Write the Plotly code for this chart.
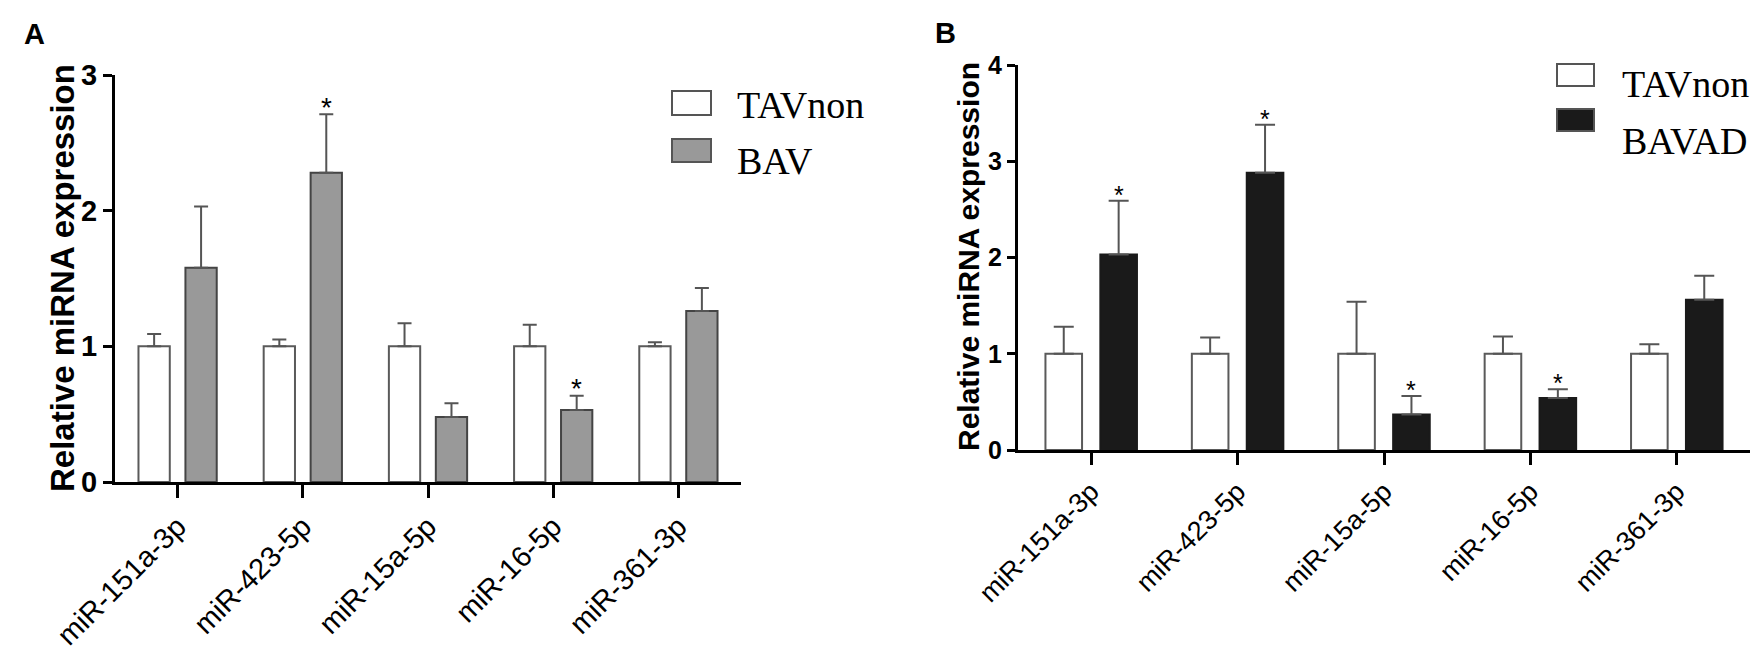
import plotly.graph_objects as go

# values
mirnas = ["miR-151a-3p", "miR-423-5p", "miR-15a-5p", "miR-16-5p", "miR-361-3p"]

a_tav = [1.0, 1.0, 1.0, 1.0, 1.0]
a_tav_err = [0.09, 0.05, 0.17, 0.16, 0.03]
a_bav = [1.58, 2.28, 0.48, 0.53, 1.26]
a_bav_err = [0.45, 0.43, 0.10, 0.105, 0.17]
a_stars = [False, True, False, True, False]

b_tav = [1.0, 1.0, 1.0, 1.0, 1.0]
b_tav_err = [0.28, 0.17, 0.54, 0.18, 0.10]
b_bavad = [2.03, 2.88, 0.37, 0.54, 1.56]
b_bavad_err = [0.56, 0.50, 0.19, 0.09, 0.25]
b_stars = [True, True, True, True, False]

W, H = 1758, 650
SANS = "Arial, Liberation Sans, sans-serif"
SERIF = "Times New Roman, Liberation Serif, serif"
OFF = 0.1875      # half distance between the two bars of a group
BW = 0.25         # bar width in category units

idx = list(range(len(mirnas)))


def px_x(p):
    return p / W


def px_y(p):
    return 1 - p / H


fig = go.Figure()


def add_panel(xa, ya, tav, tav_err, other, other_err, stars, other_fill, other_line,
              err_w, star_size, star_shift):
    fig.add_trace(go.Bar(x=[i - OFF for i in idx], y=tav, width=BW,
                         marker=dict(color="white", line=dict(color="#5a5a5a", width=2)),
                         error_y=dict(type="data", symmetric=False, array=tav_err,
                                      arrayminus=[0] * len(tav), color="#555555",
                                      thickness=2, width=err_w),
                         xaxis=xa, yaxis=ya))
    fig.add_trace(go.Bar(x=[i + OFF for i in idx], y=other, width=BW,
                         marker=dict(color=other_fill, line=dict(color=other_line, width=2)),
                         error_y=dict(type="data", symmetric=False, array=other_err,
                                      arrayminus=[0] * len(other), color="#555555",
                                      thickness=2, width=err_w),
                         xaxis=xa, yaxis=ya))
    for i, s in enumerate(stars):
        if s:
            fig.add_annotation(x=i + OFF, y=other[i] + other_err[i], xref=xa, yref=ya,
                               text="*", showarrow=False, yanchor="middle",
                               yshift=star_shift,
                               font=dict(family=SANS, size=star_size, color="black"))


add_panel("x", "y", a_tav, a_tav_err, a_bav, a_bav_err, a_stars,
          "#999999", "#444444", 7, 28, 7)
add_panel("x2", "y2", b_tav, b_tav_err, b_bavad, b_bavad_err, b_stars,
          "#1a1a1a", "#1a1a1a", 10, 25, 6)

axis_common = dict(showline=True, linecolor="black", linewidth=3, ticks="outside",
                   tickcolor="black", showgrid=False, zeroline=False, automargin=False)

fig.update_layout(
    width=W, height=H,
    margin=dict(l=0, r=0, t=0, b=0),
    paper_bgcolor="white", plot_bgcolor="white",
    showlegend=False, barmode="overlay",
    xaxis=dict(domain=[px_x(107), px_x(733)], range=[-0.5, 4.5], anchor="y",
               tickvals=idx, ticktext=mirnas, tickangle=-45, ticklen=13, tickwidth=2.5,
               tickfont=dict(family=SANS, size=29, color="black"), **axis_common),
    yaxis=dict(domain=[px_y(474), px_y(67)], range=[0, 3], anchor="x",
               tickvals=[0, 1, 2, 3], ticklen=9, tickwidth=3,
               tickfont=dict(family=SANS, size=29, color="black", weight="bold"),
               **axis_common),
    xaxis2=dict(domain=[px_x(1010), px_x(1742)], range=[-0.5, 4.5], anchor="y2",
                tickvals=idx, ticktext=mirnas, tickangle=-45, ticklen=12, tickwidth=2.5,
                tickfont=dict(family=SANS, size=27, color="black"), **axis_common),
    yaxis2=dict(domain=[px_y(442), px_y(57)], range=[0, 4], anchor="x2",
                tickvals=[0, 1, 2, 3, 4], ticklen=8, tickwidth=3,
                tickfont=dict(family=SANS, size=25, color="black", weight="bold"),
                **axis_common),
)

# y axis titles
fig.add_annotation(x=px_x(54), y=px_y(270), xref="paper", yref="paper",
                   text="<b>Relative miRNA expression</b>", textangle=-90, showarrow=False,
                   xanchor="center", yanchor="middle",
                   font=dict(family=SANS, size=33, color="black"))
fig.add_annotation(x=px_x(960), y=px_y(249), xref="paper", yref="paper",
                   text="<b>Relative miRNA expression</b>", textangle=-90, showarrow=False,
                   xanchor="center", yanchor="middle",
                   font=dict(family=SANS, size=30, color="black"))

# panel letters
for letter, cx, cy in [("A", 26, 26), ("B", 937, 25)]:
    fig.add_annotation(x=px_x(cx), y=px_y(cy), xref="paper", yref="paper",
                       text="<b>%s</b>" % letter, showarrow=False,
                       xanchor="center", yanchor="middle",
                       font=dict(family=SANS, size=29, color="black"))

# legends drawn by hand (boxes + serif labels)
legend_items = [
    (664, 703, 83, 107, "white", 727, 97, "TAVnon"),
    (664, 703, 131, 154, "#999999", 727, 153, "BAV"),
    (1549, 1586, 56, 78, "white", 1612, 76, "TAVnon"),
    (1549, 1586, 101, 123, "#1a1a1a", 1612, 133, "BAVAD"),
]
for x0, x1, y0, y1, fill, tx, ty, label in legend_items:
    fig.add_shape(type="rect", xref="paper", yref="paper",
                  x0=px_x(x0), x1=px_x(x1), y0=px_y(y1), y1=px_y(y0),
                  fillcolor=fill, line=dict(color="#555555", width=2))
    fig.add_annotation(x=px_x(tx), y=px_y(ty), xref="paper", yref="paper",
                       text=label, showarrow=False, xanchor="left", yanchor="middle",
                       font=dict(family=SERIF, size=38, color="black"))

fig.write_html("out.html")
